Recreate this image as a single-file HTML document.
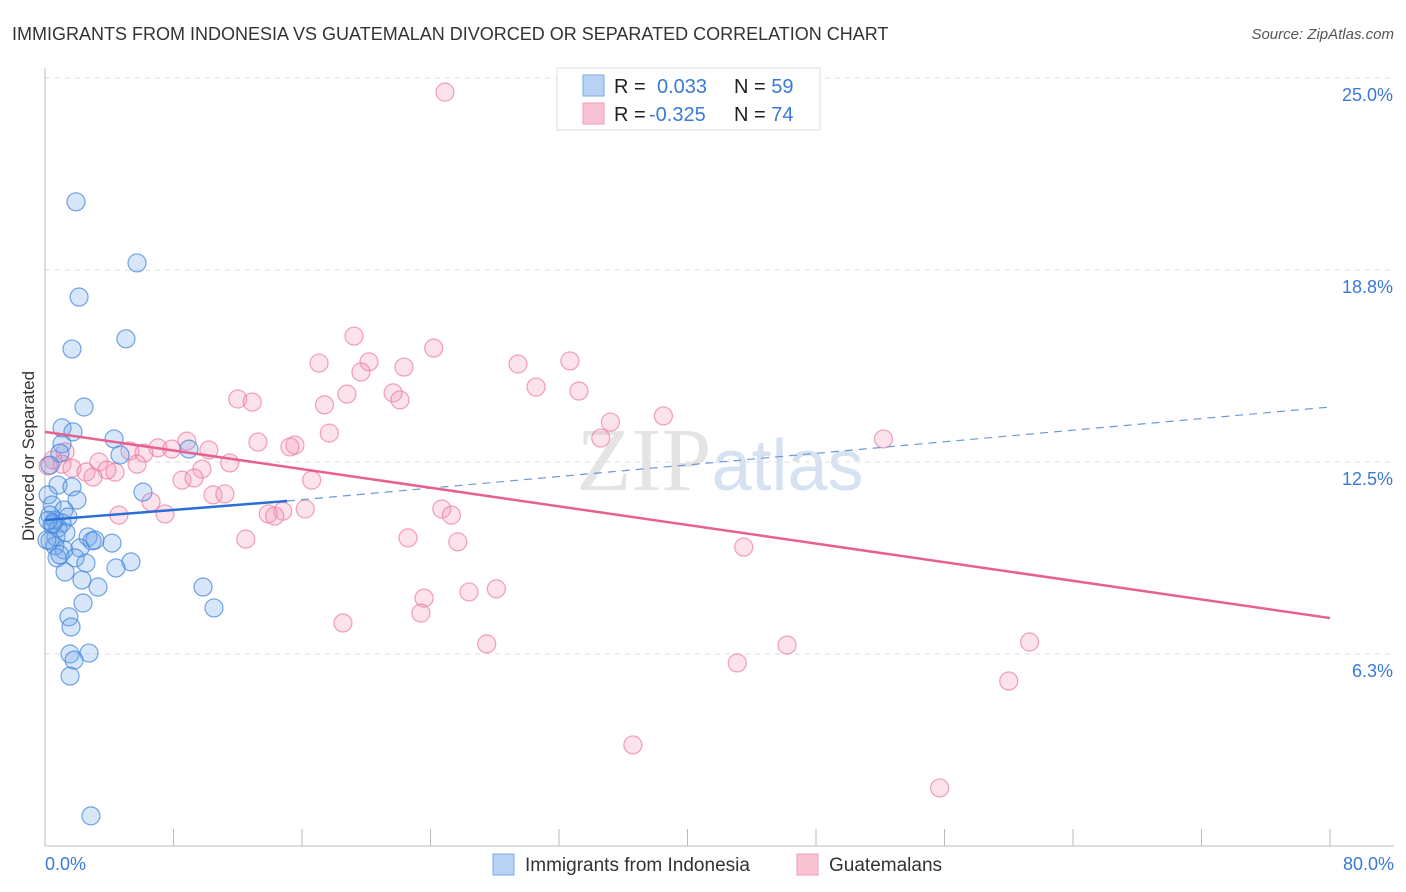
<!DOCTYPE html>
<html><head><meta charset="utf-8"><style>
body{margin:0;background:#fff;font-family:"Liberation Sans",sans-serif}
svg{display:block}
</style></head><body>
<svg id="c" width="1406" height="892" xmlns="http://www.w3.org/2000/svg">
<text x="12" y="40" font-size="18" fill="#333">IMMIGRANTS FROM INDONESIA VS GUATEMALAN DIVORCED OR SEPARATED CORRELATION CHART</text>
<text x="1394" y="39" font-size="15" fill="#555" text-anchor="end" font-style="italic">Source: ZipAtlas.com</text>
<text x="720" y="490" font-size="90" fill="#e4e4e4" text-anchor="middle" font-family="Liberation Serif,serif">ZIP<tspan fill="#d6e2f2" font-family="Liberation Sans,sans-serif" font-size="72">atlas</tspan></text>
<text transform="translate(34,456) rotate(-90)" font-size="17" fill="#333" text-anchor="middle">Divorced or Separated</text>
<g id="grid"></g><g id="pts"></g><g id="trend"></g>
<g>
<rect x="557" y="68" width="263" height="62" fill="#fff" stroke="#ddd"/>
<rect x="583" y="75" width="21" height="21" fill="#b8d2f4" stroke="#7aaae8"/>
<rect x="583" y="103" width="21" height="21" fill="#f8c4d4" stroke="#f09ab4"/>
<text x="614" y="93" font-size="20" fill="#222">R = <tspan x="657" fill="#3a7ad6">0.033</tspan><tspan x="734" fill="#222">N = </tspan><tspan fill="#3a7ad6">59</tspan></text>
<text x="614" y="121" font-size="20" fill="#222">R = <tspan x="649" fill="#3a7ad6">-0.325</tspan><tspan x="734" fill="#222">N = </tspan><tspan fill="#3a7ad6">74</tspan></text>
</g>
<g>
<rect x="493" y="854" width="21" height="21" fill="#b8d2f4" stroke="#7aaae8"/>
<text x="525" y="871" font-size="19" fill="#333">Immigrants from Indonesia</text>
<rect x="797" y="854" width="21" height="21" fill="#f8c4d4" stroke="#f09ab4"/>
<text x="829" y="871" font-size="19" fill="#333">Guatemalans</text>
</g>
</svg>
<script>
const xTickLabels=["0.0%","80.0%"];
const yTicks=[6.25,12.5,18.75,25];
const yTickLabels=["6.3%","12.5%","18.8%","25.0%"];
const blueX=[1.93,5.73,2.12,1.68,5.04,2.43,1.06,1.74,4.30,1.06,8.96,4.67,0.93,0.31,0.81,1.68,6.10,0.19,1.99,0.44,1.18,1.43,0.62,1.06,0.44,0.81,4.17,2.68,0.68,0.31,0.62,1.18,2.18,2.93,3.11,0.75,1.87,2.55,5.35,4.42,1.25,2.30,3.30,9.84,2.37,10.52,1.49,1.62,1.56,2.74,1.81,1.56,2.86,0.31,0.12,0.93,0.5,1.3,0.2];
const blueY=[20.97,18.98,17.87,16.18,16.51,14.29,13.61,13.48,13.25,13.09,12.92,12.73,12.79,12.40,11.75,11.69,11.52,11.43,11.26,11.10,10.94,10.71,10.61,10.51,10.45,10.35,9.86,10.06,10.06,9.93,9.77,9.64,9.70,9.93,9.96,9.38,9.38,9.21,9.25,9.05,8.92,8.66,8.43,8.43,7.91,7.75,7.46,7.13,6.25,6.28,6.05,5.53,0.98,10.77,9.96,9.48,10.5,10.2,10.6];
const pinkX=[24.9,19.24,24.2,17.06,20.17,22.35,29.45,32.68,19.67,30.57,33.24,21.67,18.8,22.1,12.0,12.9,17.4,38.5,35.2,17.7,34.6,52.2,8.83,13.26,15.56,15.25,7.03,7.9,5.29,6.16,10.2,1.25,0.5,1.06,0.19,1.68,3.36,5.73,11.5,4.36,2.55,3.86,9.77,2.99,8.53,9.28,16.6,10.46,11.2,6.6,24.7,25.3,16.2,14.8,13.9,14.3,4.6,7.47,12.5,22.6,25.7,43.5,28.1,26.4,23.6,23.4,18.55,27.5,46.2,61.3,43.1,60.0,36.6,55.7];
const pinkY=[24.54,16.60,16.21,15.72,15.76,15.59,15.69,15.79,15.43,14.94,14.81,14.75,14.71,14.52,14.55,14.45,14.36,14.0,13.80,13.44,13.28,13.25,13.18,13.15,13.05,12.99,12.96,12.92,12.86,12.79,12.89,12.83,12.57,12.43,12.37,12.30,12.50,12.43,12.47,12.17,12.17,12.24,12.27,12.01,11.91,11.98,11.91,11.43,11.46,11.2,10.97,10.77,10.97,10.9,10.81,10.74,10.77,10.81,9.99,10.03,9.90,9.73,8.37,8.27,8.07,7.58,7.26,6.58,6.54,6.64,5.96,5.37,3.29,1.89];
const blueTrendX=[0,15.07,80];
const blueTrendY=[10.61,11.23,14.29];
const pinkTrendX=[0,80];
const pinkTrendY=[13.48,7.42];
const NS="http://www.w3.org/2000/svg";
const sx=v=>45+v*(1285/80);
const sy=v=>846-v*(192/6.25);
function mk(tag,attrs,parent){const e=document.createElementNS(NS,tag);for(const k in attrs)e.setAttribute(k,attrs[k]);parent.appendChild(e);return e;}
const grid=document.getElementById('grid');
yTicks.forEach((t,i)=>{
 const l=mk('line',{x1:45,x2:1394,y1:sy(t),y2:sy(t),stroke:'#ddd','stroke-dasharray':'5,5'},grid);
 
 
 const tx=mk('text',{x:1393,y:sy(t)+23,'font-size':18,fill:'#3a7ad6','text-anchor':'end'},grid);
 tx.textContent=yTickLabels[i];
 
 
});
const ax=mk('line',{x1:45,x2:45,y1:68,y2:846,stroke:'#bbb'},grid);


const bx=mk('line',{x1:45,x2:1394,y1:846,y2:846,stroke:'#bbb'},grid);


for(let k=0;k<=10;k++){
 const v=k*8;
 const t=mk('line',{x1:sx(v),x2:sx(v),y1:829,y2:846,stroke:'#bbb'},grid);
 
 
}
[[0,'start',45],[80,'end',1394]].forEach((p,i)=>{
 const tx=mk('text',{x:p[2],y:870,'font-size':18,fill:'#3a7ad6','text-anchor':p[1]},grid);
 tx.textContent=xTickLabels[i];
 
 
});
const pts=document.getElementById('pts');
pinkX.forEach((x,i)=>{
 const c=mk('circle',{cx:sx(x),cy:sy(pinkY[i]),r:9,fill:'rgba(244,150,180,0.28)',stroke:'rgba(236,120,160,0.7)','stroke-width':1.2},pts);
 
 
});
blueX.forEach((x,i)=>{
 const c=mk('circle',{cx:sx(x),cy:sy(blueY[i]),r:9,fill:'rgba(110,165,235,0.28)',stroke:'rgba(70,135,220,0.75)','stroke-width':1.2},pts);
 
 
});
const tr=document.getElementById('trend');
const b1=mk('line',{x1:sx(blueTrendX[0]),y1:sy(blueTrendY[0]),x2:sx(blueTrendX[1]),y2:sy(blueTrendY[1]),stroke:'#2a6fd6','stroke-width':2.5},tr);


const b2=mk('line',{x1:sx(blueTrendX[1]),y1:sy(blueTrendY[1]),x2:sx(blueTrendX[2]),y2:sy(blueTrendY[2]),stroke:'#6a9ad8','stroke-width':1.2,'stroke-dasharray':'8,6'},tr);


const p1=mk('line',{x1:sx(pinkTrendX[0]),y1:sy(pinkTrendY[0]),x2:sx(pinkTrendX[1]),y2:sy(pinkTrendY[1]),stroke:'#e8608e','stroke-width':2.5},tr);


</script>
</body></html>
